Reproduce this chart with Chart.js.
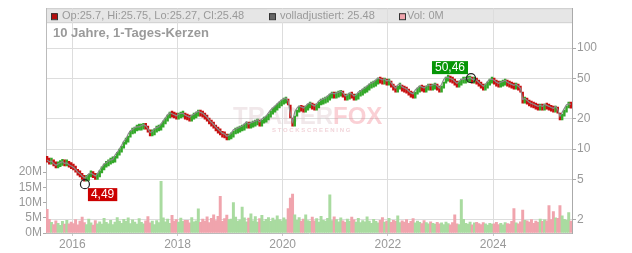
<!DOCTYPE html>
<html>
<head>
<meta charset="utf-8">
<script src="https://cdn.jsdelivr.net/npm/chart.js"></script>
<style>
  html, body { margin: 0; padding: 0; background: #fff; }
  #wrap { width: 632px; height: 253px; }
</style>
</head>
<body>
<div id="wrap"><canvas id="myChart" width="632" height="253"></canvas></div>
<script>
// half-month steps from mid 2015
const startYear = 2015.5;
const perYear = 24;
const firstOpen = 7.6;

const closes = [
  7.4, 7.1, 7.2, 6.8, 6.5, 6.7, 6.9, 7.1, 6.8, 6.9, 6.6, 6.4,
  6.2, 5.9, 5.5, 5.3, 5.0, 4.8, 4.9, 5.3, 5.4, 5.2, 5.0, 5.3, 5.8, 6.2, 6.6, 6.8, 7.1, 7.3, 7.4, 8.1, 8.7, 9.3, 10.2, 11.2,
  11.7, 13.1, 14.1, 14.4, 15.1, 15.4, 15.4, 15.7, 16.1, 15.7, 14.7, 13.5, 13.8, 14.7, 15.1, 15.4, 16.5, 17.7, 18.9, 20.3, 21.2, 20.7, 20.3, 19.8,
  20.3, 20.7, 20.7, 19.8, 19.4, 18.9, 19.8, 20.3, 21.2, 21.7, 21.2, 20.7, 19.8, 18.9, 17.7, 16.9, 16.1, 15.1, 14.4, 13.8, 13.1, 12.9, 12.3, 12.6,
  13.1, 14.1, 14.4, 14.7, 15.1, 15.4, 16.1, 16.9, 16.1, 16.5, 16.9, 17.3, 17.7, 16.9, 18.1, 18.5, 19.4, 20.7, 22.2, 23.2, 24.3, 25.5, 26.7, 27.9,
  28.5, 29.2, 27.3, 20.3, 16.9, 21.2, 23.2, 24.3, 23.7, 23.2, 24.3, 25.5, 26.0, 24.9, 24.3, 25.5, 27.3, 27.9, 28.5, 29.2, 30.5, 32.0, 32.7, 32.0,
  32.7, 33.4, 34.2, 32.7, 30.5, 31.2, 32.7, 32.0, 30.5, 31.2, 33.4, 34.2, 35.8, 36.6, 38.4, 40.2, 41.1, 42.1, 44.0, 46.0, 45.0, 44.0, 45.0, 43.0,
  44.0, 41.1, 38.4, 36.6, 39.3, 40.2, 37.5, 36.6, 35.8, 34.2, 32.7, 32.0, 35.0, 36.6, 38.4, 37.5, 36.6, 38.4, 39.3, 38.4, 39.3, 40.2, 38.4, 36.6,
  40.2, 45.0, 47.1, 47.1, 46.0, 45.0, 43.0, 41.1, 43.0, 45.0, 45.0, 46.0, 46.0, 47.1, 45.0, 45.0, 44.0, 42.1, 40.2, 38.4, 40.2, 43.0, 45.0, 45.0,
  44.0, 42.1, 41.1, 42.1, 43.0, 44.0, 42.1, 41.1, 40.2, 39.3, 40.2, 38.4, 36.6, 28.5, 29.2, 27.9, 26.7, 26.0, 25.5, 24.9, 24.3, 24.9, 24.3, 25.5,
  24.9, 24.3, 23.7, 23.2, 24.3, 22.7, 19.4, 21.2, 23.2, 25.5, 26.0, 25.48
];

const adjusted = [
  7.8, 7.5, 7.6, 7.2, 6.9, 7.1, 7.3, 7.5, 7.2, 7.3, 7.0, 6.8,
  6.6, 6.3, 5.9, 5.7, 5.4, 5.2, 5.3, 5.7, 5.8, 5.6, 5.4, 5.7, 6.2, 6.6, 7.1, 7.3, 7.6, 7.8, 7.9, 8.7, 9.3, 10.0, 10.9, 12.0,
  12.6, 14.1, 15.2, 15.6, 16.3, 16.6, 16.6, 17.0, 17.4, 17.0, 15.9, 14.6, 14.9, 15.9, 16.3, 16.6, 17.8, 19.1, 20.4, 21.9, 22.9, 22.4, 21.9, 21.4,
  22.1, 22.6, 22.6, 21.6, 21.1, 20.6, 21.6, 22.1, 23.1, 23.7, 23.1, 22.6, 21.6, 20.6, 19.3, 18.4, 17.5, 16.5, 15.7, 15.0, 14.3, 14.1, 13.4, 13.7,
  14.4, 15.5, 15.8, 16.2, 16.6, 16.9, 17.7, 18.6, 17.7, 18.2, 18.6, 19.0, 19.5, 18.6, 19.9, 20.4, 21.3, 22.8, 24.4, 25.5, 26.7, 28.1, 29.4, 30.7,
  31.4, 32.1, 30.0, 22.3, 18.6, 23.3, 25.5, 26.7, 26.1, 25.5, 26.7, 28.1, 28.6, 27.4, 26.7, 28.1, 30.0, 30.7, 31.4, 32.1, 33.6, 35.2, 36.0, 35.2,
  36.0, 36.7, 37.6, 36.0, 33.6, 34.3, 36.0, 35.2, 33.6, 34.3, 36.7, 37.6, 39.4, 40.3, 42.2, 44.2, 45.2, 46.3, 48.4, 50.6, 49.5, 48.4, 49.5, 47.3,
  48.4, 45.2, 42.2, 40.3, 43.2, 44.2, 41.3, 40.3, 39.4, 37.6, 36.0, 35.2, 38.5, 40.3, 42.2, 41.3, 40.3, 42.2, 43.2, 42.2, 43.2, 44.2, 42.2, 40.3,
  43.8, 49.1, 51.3, 51.3, 50.1, 49.1, 46.9, 44.8, 46.9, 49.1, 49.1, 50.1, 50.1, 51.3, 49.1, 49.1, 48.0, 45.9, 43.8, 41.9, 43.8, 46.9, 49.1, 49.1,
  48.0, 45.9, 44.8, 45.9, 46.9, 48.0, 45.9, 44.8, 43.8, 42.8, 43.8, 41.9, 39.9, 31.1, 31.8, 30.4, 29.1, 28.3, 27.8, 27.1, 26.5, 27.1, 26.5, 27.8,
  27.1, 26.5, 25.8, 25.3, 26.5, 24.7, 21.1, 23.1, 25.3, 27.5, 28.0, 27.8
];

// volume in millions
const volumes = [
  7.8, 4.5, 3.5, 2.8, 4.0, 3.2, 2.5, 3.8, 2.9, 4.2, 3.0, 3.6,
  3.1, 4.4, 2.7, 3.9, 5.2, 3.4, 2.8, 4.6, 3.3, 2.6, 4.1, 3.0, 3.7, 2.9, 4.8, 3.5, 3.0, 4.2, 2.8, 3.6, 5.1, 3.9, 3.2, 4.5,
  3.8, 5.0, 3.1, 4.3, 3.6, 2.9, 4.7, 3.5, 3.0, 4.0, 5.4, 3.3, 3.9, 2.8, 4.1, 3.4, 17.0, 5.0, 3.7, 4.6, 3.2, 5.8, 3.9, 4.4,
  3.6, 4.9, 3.8, 4.2, 4.2, 3.3, 5.1, 3.7, 4.0, 7.9, 3.5, 4.6, 3.9, 5.3, 3.4, 4.8, 6.0, 4.1, 5.5, 12.0, 3.8, 4.7, 5.9, 4.4,
  4.6, 10.0, 5.2, 3.9, 4.3, 8.5, 5.0, 3.7, 4.9, 6.3, 4.0, 5.4, 3.6, 4.7, 5.8, 3.9, 4.5, 5.1, 3.8, 4.9, 4.2, 5.6, 4.4, 4.0,
  5.0, 4.3, 8.0, 11.5, 12.8, 6.0, 4.2, 5.1, 3.9, 4.6, 6.0, 4.1, 3.8, 5.2, 4.0, 4.7, 3.6, 5.5, 4.2, 3.9, 4.8, 12.5, 4.1, 5.3,
  4.4, 3.7, 5.0, 4.0, 3.5, 4.6, 3.9, 5.2, 4.3, 3.6, 4.8, 3.4, 4.1, 3.7, 5.3, 3.9, 3.2, 4.5, 3.8, 3.3, 4.2, 5.1, 3.6, 3.9,
  4.8, 3.5, 4.2, 3.9, 5.6, 3.4, 4.0, 3.6, 4.4, 3.2, 3.8, 4.7, 3.3, 3.9, 3.5, 3.1, 4.1, 3.4, 3.0, 3.7, 3.2, 2.9, 3.5, 3.0,
  3.3, 2.8, 3.6, 3.1, 2.7, 3.4, 6.0, 3.0, 2.8, 11.0, 4.5, 3.2, 2.9, 3.6, 2.7, 3.3, 3.5, 3.1, 2.8, 3.4, 3.0, 2.6, 3.2, 2.9,
  3.0, 3.5, 2.8, 3.2, 2.7, 3.4, 3.1, 2.9, 3.8, 8.0, 3.3, 3.0, 3.7, 7.5, 4.2, 4.0, 3.6, 4.4, 3.2, 3.9, 3.5, 4.6, 3.8, 4.3,
  4.0, 9.0, 4.4, 7.0, 5.0, 4.8, 9.0, 5.6, 4.5, 4.2, 6.7, 3.9
];

const yearTicks = [2016, 2018, 2020, 2022, 2024];
const priceTicks = [2, 5, 10, 20, 50, 100];
const volTicks = [0, 5, 10, 15, 20];

const markerTimes = [2016.24, 2023.58];
const markerValues = [4.49, 50.46];
const markerLabels = ['4,49', '50,46'];

const legendTexts = ['Op:25.7, Hi:25.75, Lo:25.27, Cl:25.48', 'volladjustiert: 25.48', 'Vol: 0M'];
const titleText = '10 Jahre, 1-Tages-Kerzen';

const UP = '#33a829', DOWN = '#c80f0f';
const VOL_UP = '#a9dba0', VOL_DOWN = '#f0a4ad';
const FONT = '"Liberation Sans", Arial, sans-serif';

const times = closes.map((c, i) => startYear + (i + 0.5) / perYear);
const opens = closes.map((c, i) => i ? closes[i - 1] : firstOpen);
const isUp = closes.map((c, i) => c >= opens[i]);

const decor = {
  id: 'decor',
  beforeDraw(chart) {
    const { ctx, chartArea: a } = chart;
    ctx.save();
    ctx.fillStyle = '#e6e6e6';
    ctx.fillRect(a.left, a.top, a.right - a.left, 14);
    ctx.strokeStyle = '#cccccc';
    ctx.lineWidth = 1;
    ctx.beginPath();
    ctx.moveTo(a.left, a.top + 0.5); ctx.lineTo(a.right, a.top + 0.5);
    ctx.moveTo(a.left, a.top + 14.5); ctx.lineTo(a.right, a.top + 14.5);
    ctx.stroke();
    ctx.restore();
  },
  beforeDatasetsDraw(chart) {
    const { ctx, chartArea: a } = chart;
    ctx.save();
    // legend row + title on top of the grid
    const boxes = [[a.left + 5, '#b50d0d'], [a.left + 223, '#666666'], [a.left + 353, '#f0a4ad']];
    const textX = [a.left + 16, a.left + 234, a.left + 361];
    ctx.font = '11px ' + FONT;
    ctx.textBaseline = 'middle';
    ctx.fillStyle = '#e6e6e6';
    ctx.fillRect(a.left + 221, a.top + 1, 110, 13);
    boxes.forEach((b, i) => {
      ctx.fillStyle = b[1];
      ctx.fillRect(b[0], a.top + 5, 6, 6);
      ctx.strokeStyle = '#333';
      ctx.lineWidth = 1;
      ctx.strokeRect(b[0] + 0.5, a.top + 5.5, 6, 6);
      ctx.fillStyle = '#9a9a9a';
      ctx.fillText(legendTexts[i], textX[i], a.top + 8);
    });
    ctx.font = 'bold 13px ' + FONT;
    ctx.fillStyle = '#9a9a9a';
    ctx.fillText(titleText, a.left + 7, a.top + 25);

    // watermark
    ctx.font = 'bold 24px ' + FONT;
    ctx.textBaseline = 'alphabetic';
    ctx.fillStyle = 'rgba(215,190,195,0.35)';
    ctx.fillText('TRADER', a.left + 187, 124);
    const w = ctx.measureText('TRADER').width;
    ctx.fillStyle = 'rgba(240,120,135,0.35)';
    ctx.fillText('FOX', a.left + 187 + w, 124);
    ctx.font = 'bold 6px ' + FONT;
    ctx.fillStyle = 'rgba(225,160,170,0.45)';
    ctx.fillText('S T O C K S C R E E N I N G', a.left + 226, 132);
    ctx.restore();
  },
  afterDatasetsDraw(chart) {
    const { ctx } = chart;
    const xs = chart.scales.x, ys = chart.scales.price;
    ctx.save();
    ctx.font = '12px ' + FONT;
    ctx.textBaseline = 'middle';
    const maxV = Math.max(...markerValues);
    markerTimes.forEach((t, i) => {
      const px = xs.getPixelForValue(t);
      const py = ys.getPixelForValue(markerValues[i]);
      const tw = ctx.measureText(markerLabels[i]).width;
      const bw = tw + 6, bh = 13;
      let bx, by;
      if (markerValues[i] === maxV) {
        bx = px - 3 - bw; by = py - 4 - bh;
        ctx.fillStyle = '#069606';
      } else {
        bx = px + 3; by = py + 4;
        ctx.fillStyle = '#cc0000';
      }
      ctx.fillRect(bx, by, bw, bh);
      ctx.fillStyle = '#ffffff';
      ctx.fillText(markerLabels[i], bx + 3, by + bh / 2 + 0.5);
    });
    ctx.restore();
  }
};

const ctx = document.getElementById('myChart');

new Chart(ctx, {
  type: 'bar',
  data: {
    datasets: [
      {
        type: 'scatter',
        yAxisID: 'price',
        data: markerTimes.map((t, i) => ({ x: t, y: markerValues[i] })),
        pointRadius: 4.5,
        pointBorderColor: '#222',
        pointBorderWidth: 1.2,
        pointBackgroundColor: 'rgba(0,0,0,0)',
        order: 0
      },
      {
        type: 'line',
        yAxisID: 'price',
        data: times.map((t, i) => ({ x: t, y: adjusted[i] })),
        borderColor: '#8a8a8a',
        borderWidth: 1.2,
        pointRadius: 0,
        tension: 0,
        order: 1
      },
      {
        type: 'bar',
        yAxisID: 'price',
        grouped: false,
        data: times.map((t, i) => ({ x: t, y: [opens[i], closes[i]] })),
        backgroundColor: isUp.map(u => u ? UP : DOWN),
        barThickness: 1.8,
        minBarLength: 6,
        order: 2
      },
      {
        type: 'bar',
        yAxisID: 'vol',
        grouped: false,
        data: times.map((t, i) => ({ x: t, y: volumes[i] })),
        backgroundColor: isUp.map(u => u ? VOL_UP : VOL_DOWN),
        barThickness: 2.3,
        order: 3
      }
    ]
  },
  options: {
    responsive: false,
    animation: false,
    layout: { padding: { top: 8, left: 0, right: 0, bottom: 0 } },
    plugins: {
      legend: { display: false },
      tooltip: { enabled: false }
    },
    scales: {
      x: {
        type: 'linear',
        min: 2015.5,
        max: 2025.5,
        offset: false,
        afterBuildTicks: s => { s.ticks = yearTicks.map(v => ({ value: v })); },
        afterFit: s => { s.height = 20; },
        ticks: {
          color: '#999',
          font: { family: FONT, size: 12 },
          padding: 1,
          maxRotation: 0,
          callback: v => String(v)
        },
        grid: { color: '#dddddd', offset: false, tickLength: 3, tickColor: '#cccccc' },
        border: { color: '#bbbbbb' }
      },
      vol: {
        type: 'linear',
        position: 'left',
        min: 0,
        max: 73.8,
        afterBuildTicks: s => { s.ticks = volTicks.map(v => ({ value: v })); },
        afterFit: s => { s.width = 46; },
        ticks: {
          color: '#999',
          font: { family: FONT, size: 12 },
          padding: 1,
          callback: v => v + 'M'
        },
        grid: { drawOnChartArea: false, tickLength: 3, tickColor: '#aaaaaa' },
        border: { color: '#bbbbbb' }
      },
      price: {
        type: 'logarithmic',
        position: 'right',
        min: 1.472,
        max: 248.9,
        afterBuildTicks: s => { s.ticks = priceTicks.map(v => ({ value: v })); },
        afterFit: s => { s.width = 60; },
        ticks: {
          color: '#999',
          font: { family: FONT, size: 12 },
          padding: 1,
          callback: v => String(v)
        },
        grid: { color: '#dddddd', tickLength: 4, tickColor: '#aaaaaa' },
        border: { color: '#aaaaaa' }
      }
    }
  },
  plugins: [decor]
});
</script>
</body>
</html>
